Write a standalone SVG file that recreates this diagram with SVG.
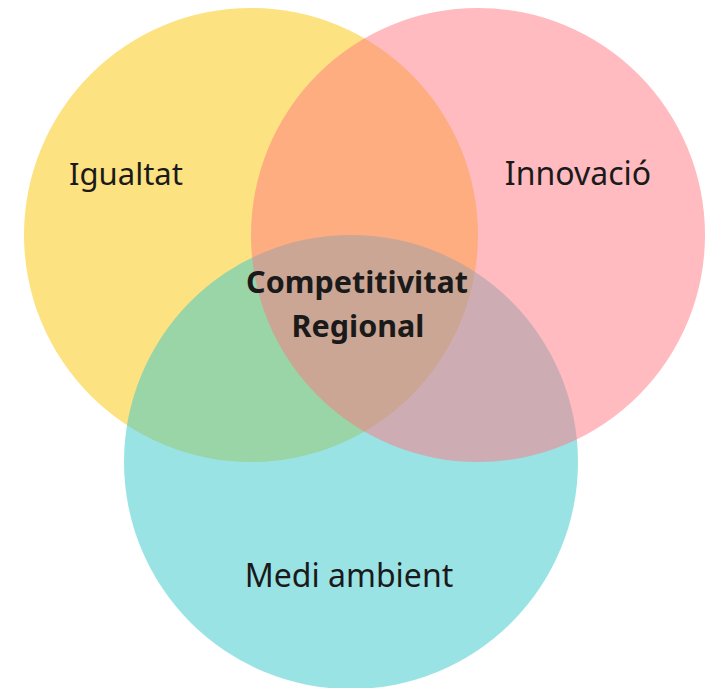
<svg xmlns="http://www.w3.org/2000/svg" width="707" height="688" viewBox="0 0 707 688">
<style>
.lbl{font-family:"Noto Sans","Open Sans","Liberation Sans",sans-serif;font-size:32px;fill:#1a1a1a;text-anchor:middle}
.b{font-weight:bold;font-size:30.5px}
</style>
<rect width="707" height="688" fill="#ffffff"/>
<g id="igualtat">
<circle cx="251" cy="235" r="227" fill="#FDE281"/>
</g>
<g id="medi-ambient">
<circle cx="351" cy="462" r="227" fill="#35C7CB" fill-opacity="0.5"/>
</g>
<g id="innovacio">
<circle cx="478" cy="235" r="227" fill="#FF7781" fill-opacity="0.5"/>
</g>
<g id="connectors"></g>
<g id="labels">
<text class="lbl" x="126" y="185" style="font-size:31px">Igualtat</text>
<text class="lbl" x="578" y="185">Innovació</text>
<text class="lbl" x="349" y="587">Medi ambient</text>
<text class="lbl b" x="357" y="293">Competitivitat</text>
<text class="lbl b" x="358" y="337">Regional</text>
</g>
</svg>
